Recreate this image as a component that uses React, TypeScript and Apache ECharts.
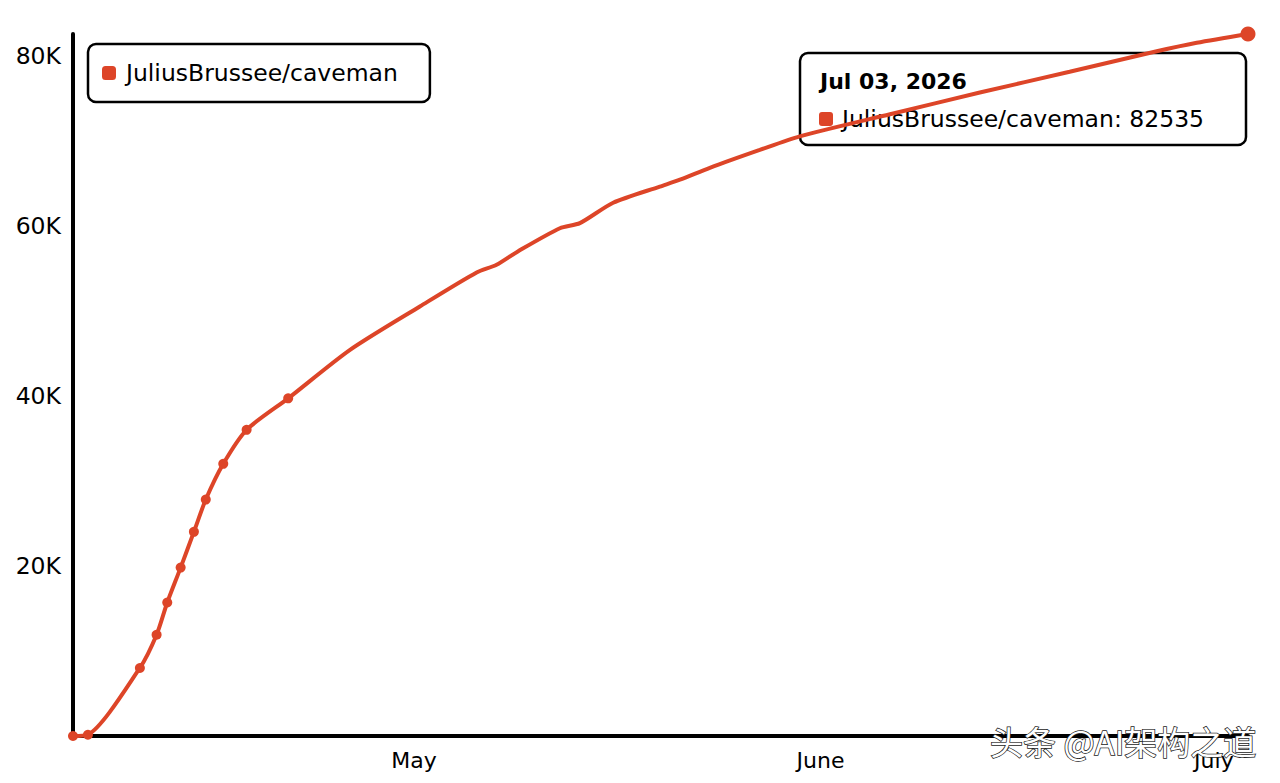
import { useEffect, useRef } from "react";
import * as echarts from "echarts";

const seriesName = "JuliusBrussee/caveman";

const dates = [
  "2026-04-05T00:00",
  "2026-04-06T03:20",
  "2026-04-10T02:24",
  "2026-04-11T09:00",
  "2026-04-12T04:30",
  "2026-04-13T05:00",
  "2026-04-14T05:15",
  "2026-04-15T03:00",
  "2026-04-16T11:00",
  "2026-04-18T05:45",
  "2026-04-21T09:50",
  "2026-04-26T03:00",
  "2026-05-01T10:48",
  "2026-05-05T18:43",
  "2026-05-07T07:12",
  "2026-05-08T22:48",
  "2026-05-12T03:07",
  "2026-05-13T15:36",
  "2026-05-16T04:34",
  "2026-05-19T18:00",
  "2026-05-21T06:43",
  "2026-05-23T13:26",
  "2026-05-27T08:53",
  "2026-05-30T10:05",
  "2026-06-06T07:12",
  "2026-06-13T03:36",
  "2026-06-20T00:00",
  "2026-06-26T15:22",
  "2026-06-29T16:34",
  "2026-07-03T14:24",
];

const stars = [
  0, 150, 8000, 11900, 15700, 19800, 24000, 27800, 32000, 36000, 39700, 45400,
  50500, 54500, 55400, 57000, 59700, 60300, 62700, 64600, 65400, 66800, 68900,
  70500, 73100, 75650, 78100, 80500, 81500, 82535,
];

// number of early samples drawn with a visible dot
const dottedSamples = 11;

const monthNames = [
  "January", "February", "March", "April", "May", "June",
  "July", "August", "September", "October", "November", "December",
];
const shortMonths = [
  "Jan", "Feb", "Mar", "Apr", "May", "Jun",
  "Jul", "Aug", "Sep", "Oct", "Nov", "Dec",
];

const yStep = 20000;

const RED = "#dd4528";
const FONT = "DejaVu Sans";

export default function App() {
  const ref = useRef<HTMLDivElement>(null);

  useEffect(() => {
    if (!ref.current) return;
    const chart = echarts.init(ref.current, null, { renderer: "svg" });
    const last = dates.length - 1;
    const data = dates.map((d, i) => ({
      value: [d, stars[i]],
      symbol: i < dottedSamples || i === last ? "circle" : "none",
      symbolSize: i === last ? 15 : 10,
    }));

    const [yy, mm, dd] = dates[last].split("T")[0].split("-");
    const tipTitle = `${shortMonths[Number(mm) - 1]} ${dd}, ${yy}`;
    const tipLine = `${seriesName}: ${stars[last]}`;

    chart.setOption({
      animation: false,
      backgroundColor: "#ffffff",
      textStyle: { fontFamily: FONT },
      grid: { left: 73, right: 32, top: 34, bottom: 47 },
      legend: {
        show: true,
        left: 88,
        top: 44,
        orient: "horizontal",
        backgroundColor: "#ffffff",
        borderColor: "#000000",
        borderWidth: 2.5,
        borderRadius: 8,
        padding: [17, 32, 17, 14],
        itemWidth: 14,
        itemHeight: 14,
        icon: "roundRect",
        textStyle: {
          fontFamily: FONT,
          fontSize: 23.5,
          color: "#000",
          padding: [0, 0, 0, 5],
        },
        data: [seriesName],
      },
      xAxis: {
        type: "time",
        min: "dataMin",
        max: "dataMax",
        axisLine: { show: true, lineStyle: { color: "#000", width: 4 } },
        axisTick: { show: false },
        splitLine: { show: false },
        axisLabel: {
          fontFamily: FONT,
          fontSize: 22,
          color: "#000",
          margin: 13,
          hideOverlap: false,
          formatter: (value: number) => {
            const d = new Date(value);
            if (d.getDate() === 1 && d.getHours() === 0 && d.getMinutes() === 0) {
              return monthNames[d.getMonth()];
            }
            return "";
          },
        },
      },
      yAxis: {
        type: "value",
        min: 0,
        max: "dataMax",
        interval: yStep,
        axisLine: { show: true, lineStyle: { color: "#000", width: 4 } },
        axisTick: { show: false },
        splitLine: { show: false },
        axisLabel: {
          fontFamily: FONT,
          fontSize: 23.5,
          color: "#000",
          margin: 12,
          showMaxLabel: false,
          formatter: (value: number) =>
            value > 0 && value % yStep === 0 ? `${value / 1000}K` : "",
        },
      },
      series: [
        {
          name: seriesName,
          type: "line",
          data,
          smooth: 0.25,
          showAllSymbol: true,
          lineStyle: { color: RED, width: 4 },
          itemStyle: { color: RED },
          z: 3,
        },
      ],
      graphic: [
        {
          type: "group",
          z: 100,
          children: [
            {
              type: "rect",
              shape: { x: 800, y: 53, width: 446, height: 92, r: 8 },
              style: {
                fill: "rgba(255,255,255,0.86)",
                stroke: "#000",
                lineWidth: 2.5,
              },
            },
            {
              type: "text",
              x: 820,
              y: 81,
              style: {
                text: tipTitle,
                fontFamily: FONT,
                fontSize: 22,
                fontWeight: "bold",
                fill: "#000",
                verticalAlign: "middle",
              },
            },
            {
              type: "rect",
              shape: { x: 819, y: 112, width: 14, height: 14, r: 3 },
              style: { fill: RED },
            },
            {
              type: "text",
              x: 842,
              y: 119,
              style: {
                text: tipLine,
                fontFamily: FONT,
                fontSize: 23.5,
                fill: "#000",
                verticalAlign: "middle",
              },
            },
          ],
        },
        {
          type: "text",
          z: 200,
          x: 990,
          y: 741,
          style: {
            text: "头条 @AI架构之道",
            fontFamily: "Noto Sans CJK SC",
            fontSize: 33,
            fill: "#ffffff",
            stroke: "#222222",
            lineWidth: 1.5,
            verticalAlign: "middle",
          },
        },
      ],
    });

    return () => chart.dispose();
  }, []);

  return (
    <div
      ref={ref}
      style={{ position: "absolute", left: 0, top: 0, width: 1280, height: 783 }}
    />
  );
}
